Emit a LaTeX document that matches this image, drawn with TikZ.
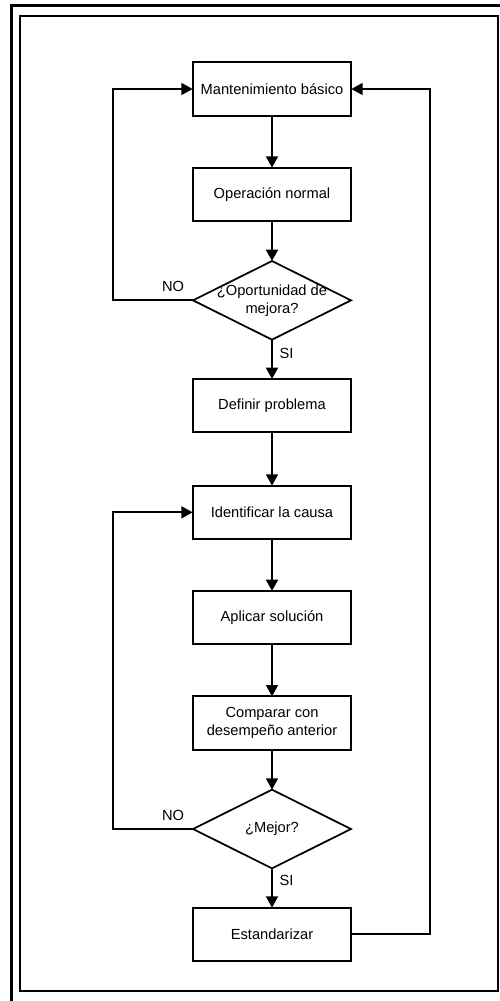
\documentclass[tikz,border=0pt]{standalone}
\usepackage{fontspec}
\setmainfont{Liberation Sans}
\usetikzlibrary{shapes,calc}
\usetikzlibrary{positioning}
\usetikzlibrary{arrows.meta}

\begin{document}
\begin{tikzpicture}[x=0.75pt,y=0.75pt,
	every node/.style={font=\fontsize{11}{13.5}\selectfont},
	caja/.style={draw,line width=1.3pt,rectangle,minimum width=119pt,minimum height=40pt,align=center,inner sep=2pt,outer sep=0pt},
	decision/.style={draw,line width=1.3pt,diamond,minimum width=118.5pt,minimum height=59pt,inner sep=0pt,outer sep=0pt},
	texto/.style={align=center,inner sep=0pt},
	flecha/.style={line width=1.3pt,-{Triangle[length=8.5pt,width=9pt]}},
	etiqueta/.style={inner sep=2pt}]
	
	\useasboundingbox (0,0) rectangle (500,-1001);
	
	% marcos
	\draw[line width=2.25pt] (11.7,-5.7) rectangle (520,-1020);
	\draw[line width=1.5pt] (20,-16) rectangle (497.7,-990.7);
	
	% ciclo de mantenimiento
	\node[caja] (mant) at (272,-89) {Mantenimiento básico};
	\node[caja] (oper) [below=39pt of mant] {Operación normal};
	\node[decision] (opor) [below=30pt of oper] {};
	\node[texto] (oportxt) at (opor) {¿Oportunidad de\\mejora?};
	
	% ciclo de mejora
	\node[caja] (defi) [below=29.5pt of opor] {Definir problema};
	\node[caja] (iden) [below=40pt of defi] {Identificar la causa};
	\node[caja] (apli) [below=39pt of iden] {Aplicar solución};
	\node[caja] (comp) [below=39pt of apli] {Comparar con\\desempeño anterior};
	\node[decision] (mejor) [below=30pt of comp] {};
	\node[texto] (mejortxt) at (mejor) {¿Mejor?};
	\node[caja] (esta) [below=29.5pt of mejor] {Estandarizar};
	
	% rieles de retorno
	\coordinate (izq) at (113,0);
	\coordinate (der) at (430,0);
	
	% conexiones hacia abajo
	\draw[flecha] (mant) -- (oper);
	\draw[flecha] (oper) -- (opor);
	\draw[flecha] (opor) -- node[etiqueta,right=3pt,pos=0.34] {SI} (defi);
	\draw[flecha] (defi) -- (iden);
	\draw[flecha] (iden) -- (apli);
	\draw[flecha] (apli) -- (comp);
	\draw[flecha] (comp) -- (mejor);
	\draw[flecha] (mejor) -- node[etiqueta,right=3pt,pos=0.3] {SI} (esta);
	
	% retornos
	\draw[flecha] (opor.west) -- node[etiqueta,above=4pt,pos=0.25] {NO} (opor.west -| izq) |- (mant.west);
	\draw[flecha] (mejor.west) -- node[etiqueta,above=4pt,pos=0.25] {NO} (mejor.west -| izq) |- (iden.west);
	\draw[flecha] (esta.east) -- (esta.east -| der) |- (mant.east);
	
\end{tikzpicture}
\end{document}
